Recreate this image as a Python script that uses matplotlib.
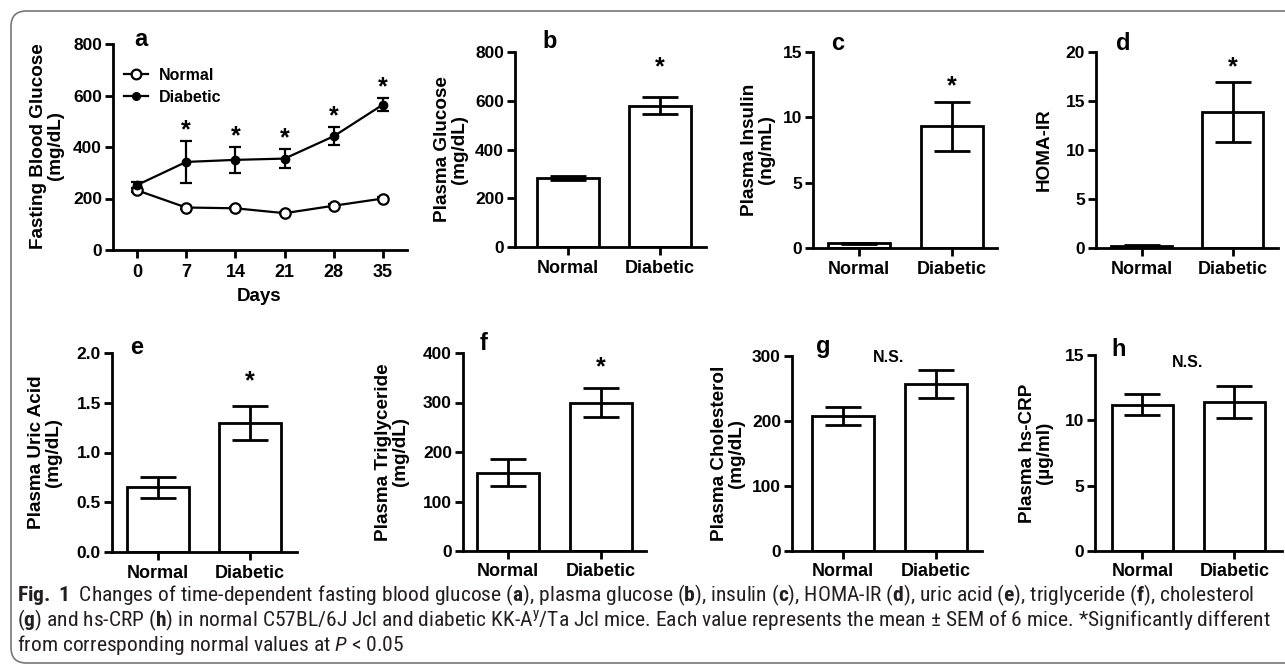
import matplotlib
matplotlib.use("Agg")
import matplotlib.pyplot as plt
from matplotlib import font_manager
from matplotlib.lines import Line2D
from matplotlib.patches import FancyBboxPatch

plt.rcParams['font.family'] = ['Liberation Sans', 'DejaVu Sans']
plt.rcParams['font.weight'] = 'bold'

# pick a narrow family for the caption if one is installed
cap_family = 'Liberation Sans'
for name in ['Liberation Sans Narrow', 'Roboto Condensed', 'Open Sans Condensed', 'Roboto']:
    try:
        font_manager.findfont(font_manager.FontProperties(family=name), fallback_to_default=False)
        cap_family = name
        break
    except ValueError:
        pass

plt.rcParams['mathtext.fontset'] = 'custom'
plt.rcParams['mathtext.rm'] = cap_family + ':weight=normal'
plt.rcParams['mathtext.bf'] = cap_family + ':weight=bold'
plt.rcParams['mathtext.it'] = cap_family + ':style=italic:weight=normal'

# panel a: fasting blood glucose over time
days = [0, 7, 14, 21, 28, 35]
normal_fbg = [232, 165, 162, 143, 172, 200]
normal_fbg_err = [8, 5, 4, 4, 5, 4]
diabetic_fbg = [252, 342, 350, 355, 442, 565]
diabetic_fbg_err = [12, 80, 50, 37, 35, 24]
diabetic_fbg_sig = [False, True, True, True, True, True]

# bar panels b-h
groups = ['Normal', 'Diabetic']
glucose = [283, 580]
glucose_err = [7, 35]
insulin = [0.38, 9.3]
insulin_err = [0.04, 1.85]
homa_ir = [0.25, 13.85]
homa_ir_err = [0.04, 3.05]
uric_acid = [0.65, 1.30]
uric_acid_err = [0.105, 0.17]
triglyceride = [158, 300]
triglyceride_err = [27, 29]
cholesterol = [208, 257]
cholesterol_err = [14, 22]
hs_crp = [11.2, 11.4]
hs_crp_err = [0.8, 1.25]

W, H = 1285, 668
fig = plt.figure(figsize=(W / 100, H / 100), dpi=100)


def px_axes(left, right, top, bottom):
    return fig.add_axes([left / W, 1 - bottom / H, (right - left) / W, (bottom - top) / H])


def style(ax):
    for s in ['top', 'right']:
        ax.spines[s].set_visible(False)
    for s in ['left', 'bottom']:
        ax.spines[s].set_linewidth(2.0)
    ax.tick_params(direction='out', length=6, width=2.0, labelsize=12.5, pad=2)
    for lab in ax.get_xticklabels() + ax.get_yticklabels():
        lab.set_fontweight('bold')


def ylab(x, y, text, size=13.6):
    fig.text(x / W, 1 - y / H, text, rotation=90, ha='center', va='center',
             multialignment='center', fontsize=size, fontweight='bold', linespacing=1.05)


def letter(x, y, s):
    fig.text(x / W, 1 - y / H, s, ha='center', va='center', fontsize=17, fontweight='bold')


# ---- panel a ----
ax = px_axes(113, 407, 44, 250)
ax.errorbar(days, normal_fbg, yerr=normal_fbg_err, color='black', lw=1.6, marker='o',
            ms=7.5, mfc='white', mec='black', mew=1.6, capsize=4, elinewidth=1.6,
            capthick=1.6, zorder=3)
ax.errorbar(days, diabetic_fbg, yerr=diabetic_fbg_err, color='black', lw=1.6, marker='o',
            ms=6, mfc='black', mec='black', capsize=4.5, elinewidth=1.6, capthick=1.6,
            zorder=3)
for d, m, e, s in zip(days, diabetic_fbg, diabetic_fbg_err, diabetic_fbg_sig):
    if s:
        ax.annotate('*', (d, m + e), xytext=(0, 8), textcoords='offset points',
                    ha='center', va='center', fontsize=18, fontweight='bold')
ax.set_xlim(-3.4, 38.4)
ax.set_ylim(0, 800)
ax.set_xticks(days)
ax.set_yticks([0, 200, 400, 600, 800])
style(ax)
ax.tick_params(axis='x', labelsize=13, pad=4)
handles = [Line2D([], [], color='black', lw=1.6, marker='o', ms=7, mfc='white', mew=1.6),
           Line2D([], [], color='black', lw=1.6, marker='o', ms=5.5, mfc='black')]
ax.legend(handles, ['Normal', 'Diabetic'], loc='upper left', bbox_to_anchor=(0.0, 0.94),
          frameon=False, prop={'weight': 'bold', 'size': 11.5}, handlelength=1.5,
          handletextpad=0.7, labelspacing=0.45, borderaxespad=0.3)
fig.text(259 / W, 1 - 297 / H, 'Days', ha='center', va='center', fontsize=13.5,
         fontweight='bold')
ylab(47, 146, 'Fasting Blood Glucose\n(mg/dL)')
letter(141, 40, 'a')

# ---- bar panels ----
panels = [
    # values, errors, ymax, yticks, box (l, r, t, b), xlim, ylabel, label x, letter, star offset px, N.S. pos, fmt
    (glucose, glucose_err, 800, [0, 200, 400, 600, 800], (515, 706, 52, 247), (-0.576, 1.5),
     'Plasma Glucose\n(mg/dL)', 451, ('b', 550, 42), 30, None, '%d'),
    (insulin, insulin_err, 15, [0, 5, 10, 15], (813, 997, 52, 248), (-0.495, 1.484),
     'Plasma Insulin\n(ng/mL)', 758, ('c', 838, 43), 16, None, '%d'),
    (homa_ir, homa_ir_err, 20, [0, 5, 10, 15, 20], (1096, 1278, 52, 248), (-0.505, 1.495),
     'HOMA-IR', 1044, ('d', 1123, 43), 15, None, '%d'),
    (uric_acid, uric_acid_err, 2.0, [0.0, 0.5, 1.0, 1.5, 2.0], (112, 297, 353, 552), (-0.5, 1.51),
     'Plasma Uric Acid\n(mg/dL)', 45, ('e', 137, 347), 24, None, '%.1f'),
    (triglyceride, triglyceride_err, 400, [0, 100, 200, 300, 400], (463, 646, 353, 551),
     (-0.484, 1.484), 'Plasma Triglyceride\n(mg/dL)', 392, ('f', 484, 344), 21, None, '%d'),
    (cholesterol, cholesterol_err, 300, [0, 100, 200, 300], (792, 982, 356, 551), (-0.554, 1.5),
     'Plasma Cholesterol\n(mg/dL)', 728, ('g', 823, 347), None, (0.49, 298), '%d'),
    (hs_crp, hs_crp_err, 15, [0, 5, 10, 15], (1095, 1282, 355, 551), (-0.516, 1.518),
     'Plasma hs-CRP\n(µg/ml)', 1036, ('h', 1119, 350), None, (0.49, 14.4), '%d'),
]

for vals, errs, ymax, yt, box, xl, lab, labx, let, star, ns, fmt in panels:
    ax = px_axes(*box)
    ax.bar([0, 1], vals, width=0.67, color='white', edgecolor='black', linewidth=2.0, zorder=2)
    ax.errorbar([0, 1], vals, yerr=errs, fmt='none', ecolor='black', elinewidth=2.0,
                capsize=13, capthick=2.0, zorder=3)
    ax.set_xlim(*xl)
    ax.set_ylim(0, ymax)
    ax.set_xticks([0, 1])
    ax.set_xticklabels(groups)
    ax.set_yticks(yt)
    ax.set_yticklabels([fmt % v for v in yt])
    style(ax)
    ax.tick_params(axis='x', labelsize=13, pad=3)
    if star is not None:
        ax.annotate('*', (1, vals[1] + errs[1]), xytext=(0, star * 0.72),
                    textcoords='offset points', ha='center', va='center',
                    fontsize=18, fontweight='bold', annotation_clip=False)
    if ns is not None:
        ax.text(ns[0], ns[1], 'N.S.', ha='center', va='center', fontsize=11.5,
                fontweight='bold', clip_on=False)
    ylab(labx, (box[2] + box[3]) / 2, lab)
    letter(let[1], let[2], let[0])

# ---- frame and caption ----
frame = FancyBboxPatch((11 / W, 1 - 663 / H), 1290 / W, 652 / H,
                       boxstyle='round,pad=0,rounding_size=0.012',
                       transform=fig.transFigure, fill=False, edgecolor='#777777',
                       linewidth=1.2, clip_on=False, mutation_aspect=W / H)
fig.patches.append(frame)

lines = [
    r'$\mathbf{Fig.\ 1}$  Changes of time-dependent fasting blood glucose ($\mathbf{a}$), '
    r'plasma glucose ($\mathbf{b}$), insulin ($\mathbf{c}$), HOMA-IR ($\mathbf{d}$), '
    r'uric acid ($\mathbf{e}$), triglyceride ($\mathbf{f}$), cholesterol',
    r'($\mathbf{g}$) and hs-CRP ($\mathbf{h}$) in normal C57BL/6J Jcl and diabetic '
    r'KK-A$^{\mathrm{y}}$/Ta Jcl mice. Each value represents the mean ± SEM of 6 mice. '
    r'*Significantly different',
    r'from corresponding normal values at $\mathit{P}$ < 0.05',
]
caps = [fig.text(17 / W, 1 - (601 + 25 * i) / H, t, fontsize=12, family=cap_family,
                 fontweight='normal', color='#231f20', ha='left', va='baseline')
        for i, t in enumerate(lines)]
# scale the caption so the widest line spans the frame like the original
r = fig.canvas.get_renderer()
wmax = max(c.get_window_extent(r).width for c in caps)
size = 12 * 1251 / wmax
for c in caps:
    c.set_fontsize(size)

fig.savefig('out.png', dpi=100)
